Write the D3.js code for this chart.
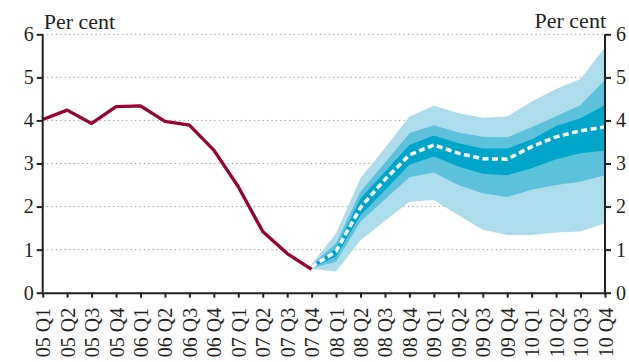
<!DOCTYPE html>
<html>
<head>
<meta charset="utf-8">
<script src="https://cdn.jsdelivr.net/npm/d3@7"></script>
<style>
  body { margin: 0; background: #fff; }
  text { font-family: "Liberation Serif", "DejaVu Serif", serif; fill: #231f20; }
</style>
</head>
<body>
<div id="chart"></div>
<script>
// quarters on the x axis
var quarters = ["05 Q1","05 Q2","05 Q3","05 Q4","06 Q1","06 Q2","06 Q3","06 Q4",
                "07 Q1","07 Q2","07 Q3","07 Q4","08 Q1","08 Q2","08 Q3","08 Q4",
                "09 Q1","09 Q2","09 Q3","09 Q4","10 Q1","10 Q2","10 Q3","10 Q4"];
var yTicks = [0, 1, 2, 3, 4, 5, 6];

// outturns, 05 Q1 - 07 Q4
var outturn = [4.02, 4.24, 3.93, 4.32, 4.34, 3.98, 3.89, 3.31, 2.46, 1.42, 0.91, 0.54];

// projection, 07 Q4 - 10 Q4
var fanQuarters = quarters.slice(11);
var central = [0.60, 0.96, 1.98, 2.63, 3.20, 3.43, 3.24, 3.11, 3.10, 3.39, 3.62, 3.76, 3.85];
var innerHi = [0.62, 1.03, 2.19, 2.81, 3.43, 3.65, 3.47, 3.35, 3.35, 3.56, 3.87, 4.05, 4.36];
var innerLo = [0.58, 0.84, 1.80, 2.38, 2.97, 3.16, 2.93, 2.76, 2.73, 2.89, 3.10, 3.24, 3.30];
var midHi   = [0.64, 1.15, 2.35, 3.02, 3.70, 3.89, 3.72, 3.62, 3.61, 3.84, 4.10, 4.36, 4.94];
var midLo   = [0.57, 0.72, 1.65, 2.17, 2.68, 2.79, 2.50, 2.31, 2.22, 2.39, 2.50, 2.58, 2.73];
var outerHi = [0.66, 1.38, 2.66, 3.36, 4.09, 4.34, 4.17, 4.06, 4.09, 4.44, 4.73, 4.96, 5.70];
var outerLo = [0.55, 0.49, 1.22, 1.67, 2.11, 2.15, 1.80, 1.46, 1.34, 1.34, 1.40, 1.42, 1.61];

var width = 629, height = 362,
    plotLeft = 42.7, plotRight = 605, plotTop = 34.3, plotBottom = 292.7;

var x = d3.scalePoint().domain(quarters).range([plotLeft, plotRight]);
var y = d3.scaleLinear().domain([0, 6]).range([plotBottom, plotTop]);

var svg = d3.select("#chart").append("svg")
    .attr("width", width)
    .attr("height", height);

// dotted gridlines
svg.append("g").selectAll("line")
    .data(yTicks.filter(function(d) { return d > 0; }))
    .enter().append("line")
    .attr("x1", plotLeft).attr("x2", plotRight)
    .attr("y1", function(d) { return y(d); })
    .attr("y2", function(d) { return y(d); })
    .attr("stroke", "#9a9a9a")
    .attr("stroke-width", 1)
    .attr("stroke-dasharray", "1.2,3.2");

// fan bands, widest first
var bands = [
  { hi: outerHi, lo: outerLo, color: "#addcea" },
  { hi: midHi,   lo: midLo,   color: "#5cc2db" },
  { hi: innerHi, lo: innerLo, color: "#00a6c9" }
];

var area = d3.area()
    .x(function(d) { return x(d.q); })
    .y0(function(d) { return y(d.lo); })
    .y1(function(d) { return y(d.hi); });

bands.forEach(function(b) {
  var pts = fanQuarters.map(function(q, i) { return { q: q, hi: b.hi[i], lo: b.lo[i] }; });
  svg.append("path")
      .datum(pts)
      .attr("d", area)
      .attr("fill", b.color);
});

var line = d3.line()
    .x(function(d) { return x(d.q); })
    .y(function(d) { return y(d.v); });

// central projection, white dashes
svg.append("path")
    .datum(fanQuarters.map(function(q, i) { return { q: q, v: central[i] }; }))
    .attr("d", line)
    .attr("fill", "none")
    .attr("stroke", "#fff")
    .attr("stroke-width", 3.5)
    .attr("stroke-dasharray", "6,3.5");

// outturn line
svg.append("path")
    .datum(outturn.map(function(v, i) { return { q: quarters[i], v: v }; }))
    .attr("d", line)
    .attr("fill", "none")
    .attr("stroke", "#990033")
    .attr("stroke-width", 3.3)
    .attr("stroke-linejoin", "round");

// axes
var axisColor = "#231f20";
var leftAxis = svg.append("g")
    .attr("transform", "translate(" + plotLeft + ",0)")
    .call(d3.axisLeft(y).tickValues(yTicks).tickSize(6).tickPadding(3).tickFormat(d3.format("d")));
var rightAxis = svg.append("g")
    .attr("transform", "translate(" + plotRight + ",0)")
    .call(d3.axisRight(y).tickValues(yTicks).tickSize(6).tickPadding(5).tickFormat(d3.format("d")));
var bottomAxis = svg.append("g")
    .attr("transform", "translate(0," + plotBottom + ")")
    .call(d3.axisBottom(x).tickSize(5).tickSizeOuter(0));

[leftAxis, rightAxis, bottomAxis].forEach(function(g) {
  g.select(".domain").attr("stroke", axisColor).attr("stroke-width", 2);
  g.selectAll(".tick line").attr("stroke", axisColor).attr("stroke-width", 2);
  g.selectAll("text").attr("fill", axisColor).style("font-family", "Liberation Serif").style("font-size", "20px");
});
// plain vertical domain lines, no end caps
leftAxis.select(".domain").attr("d", "M0," + plotTop + "V" + plotBottom);
rightAxis.select(".domain").attr("d", "M0," + plotTop + "V" + plotBottom);

bottomAxis.selectAll("text")
    .style("font-size", "20px")
    .attr("text-anchor", "end")
    .attr("dy", "0.35em")
    .attr("x", 0)
    .attr("y", 0)
    .attr("transform", "translate(0,15) rotate(-90)");

// unit labels
svg.append("text")
    .attr("x", plotLeft + 1)
    .attr("y", 29)
    .style("font-size", "22px")
    .text("Per cent");
svg.append("text")
    .attr("x", plotRight + 1)
    .attr("y", 28)
    .attr("text-anchor", "end")
    .style("font-size", "22px")
    .text("Per cent");
</script>
</body>
</html>
